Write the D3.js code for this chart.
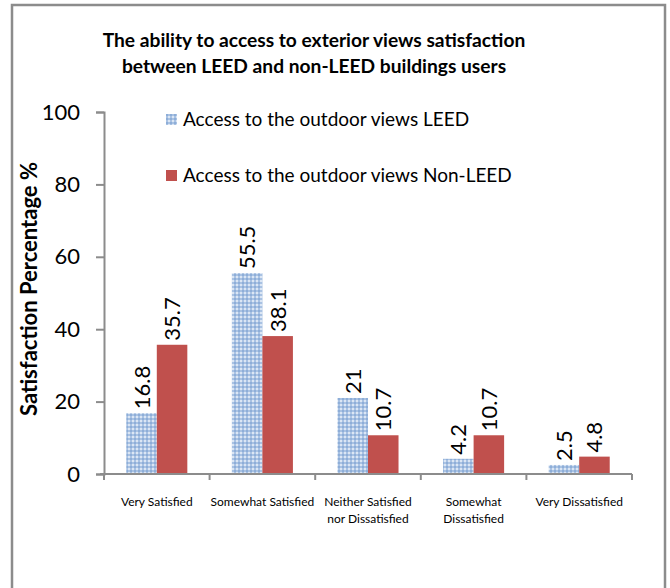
<!DOCTYPE html>
<html><head><meta charset="utf-8">
<script src="https://cdn.jsdelivr.net/npm/d3@7"></script>
<style>body{margin:0;background:#fff}svg{display:block}</style>
</head><body>
<script>
const categories = [["Very Satisfied"],["Somewhat Satisfied"],["Neither Satisfied","nor Dissatisfied"],["Somewhat","Dissatisfied"],["Very Dissatisfied"]];
const seriesNames = ["Access to the outdoor views LEED","Access to the outdoor views Non-LEED"];
const leed = [16.8,55.5,21,4.2,2.5];
const nonLeed = [35.7,38.1,10.7,10.7,4.8];
const yTicks = [0,20,40,60,80,100];
const titleLines = ["The ability to access to exterior views satisfaction","between LEED and non-LEED buildings users"];
const yTitle = "Satisfaction Percentage %";

const W=670,H=588;
const svg=d3.select("body").append("svg").attr("width",W).attr("height",H);
const defs=svg.append("defs");
const pat=defs.append("pattern").attr("id","chk").attr("patternUnits","userSpaceOnUse").attr("width",4).attr("height",4);
pat.append("rect").attr("width",4).attr("height",4).attr("fill","#a9c2e3");
pat.append("rect").attr("x",0).attr("y",0).attr("width",2).attr("height",2).attr("fill","#dbe6f4");
pat.append("rect").attr("x",2).attr("y",2).attr("width",2).attr("height",2).attr("fill","#8eaed8");

// frame
svg.append("rect").attr("x",12).attr("y",5).attr("width",653).attr("height",620)
  .attr("fill","none").attr("stroke","#8c8c8c").attr("stroke-width",2.5);

const font="Lato, 'Open Sans', sans-serif";
svg.append("g").selectAll("text").data(titleLines).join("text")
  .attr("x",314).attr("y",(d,i)=>47+i*26).attr("text-anchor","middle")
  .attr("font-family",font).attr("font-weight","bold").attr("font-size",19.2).attr("fill","#000").text(d=>d);

const x0=d3.scaleBand().domain(d3.range(categories.length)).range([104,632]).paddingInner(0).paddingOuter(0);
const x1=d3.scaleBand().domain([0,1]).range([0,x0.bandwidth()]).paddingOuter(0.73).paddingInner(0);
const y=d3.scaleLinear().domain([0,100]).range([474,112]);

// y axis
const ya=svg.append("g").attr("transform","translate(104,0)")
  .call(d3.axisLeft(y).tickValues(yTicks).tickSize(8).tickPadding(16));
ya.select(".domain").attr("stroke","#8c8c8c").attr("stroke-width",2);
ya.selectAll(".tick line").attr("stroke","#8c8c8c").attr("stroke-width",2);
ya.selectAll(".tick text").attr("font-family",font).attr("font-size",22).attr("fill","#000");

svg.append("text").attr("transform","translate(37,289) rotate(-90)").attr("text-anchor","middle")
  .attr("font-family",font).attr("font-weight","bold").attr("font-size",22).text(yTitle);

// bars
const series=[leed,nonLeed];
const fills=["url(#chk)","#c0504d"];
series.forEach((vals,s)=>{
  const g=svg.append("g");
  g.selectAll("rect").data(vals).join("rect")
    .attr("x",(d,i)=>x0(i)+x1(s)).attr("width",x1.bandwidth())
    .attr("y",d=>y(d)).attr("height",d=>y(0)-y(d)).attr("fill",fills[s]);
  g.selectAll("text").data(vals).join("text")
    .attr("transform",(d,i)=>`translate(${x0(i)+x1(s)+x1.bandwidth()/2+8},${y(d)-4}) rotate(-90)`)
    .attr("font-family",font).attr("font-size",22).attr("fill","#000").text(d=>d);
});

// x axis
const xa=svg.append("g").attr("transform","translate(0,474)");
xa.append("line").attr("x1",100).attr("x2",632).attr("stroke","#8c8c8c").attr("stroke-width",2);
xa.selectAll("line.t").data(d3.range(categories.length+1)).join("line").attr("class","t")
  .attr("x1",i=>104+i*x0.bandwidth()).attr("x2",i=>104+i*x0.bandwidth()).attr("y1",0).attr("y2",6)
  .attr("stroke","#8c8c8c").attr("stroke-width",2);
categories.forEach((lines,i)=>{
  const t=xa.append("text").attr("text-anchor","middle").attr("font-family",font).attr("font-size",12).attr("fill","#000");
  lines.forEach((l,j)=>t.append("tspan").attr("x",x0(i)+x0.bandwidth()/2).attr("y",32+j*17).text(l));
});

// legend
const lg=svg.append("g");
[0,1].forEach(s=>{
  lg.append("rect").attr("x",166).attr("y",114+s*56).attr("width",11).attr("height",11).attr("fill",fills[s]);
  lg.append("text").attr("x",183).attr("y",126+s*56).attr("font-family",font).attr("font-size",19).text(seriesNames[s]);
});
</script>
</body></html>
